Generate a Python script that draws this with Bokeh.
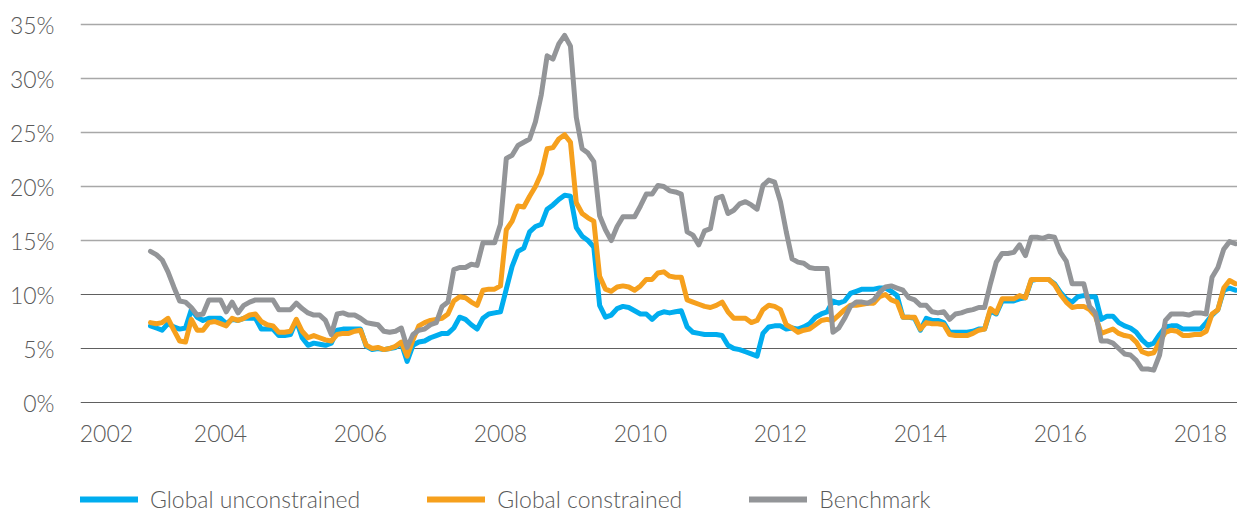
import pandas as pd
from bokeh.plotting import figure
from bokeh.layouts import column
from bokeh.models import (Range1d, FixedTicker, NumeralTickFormatter, PrintfTickFormatter,
                          Grid, Legend, LegendItem, ColumnDataSource)
from bokeh.embed import file_html
from bokeh.resources import INLINE

# ---- data (monthly, Jan 2003 - Jul 2018), values in % ----
months = pd.date_range("2003-01-01", periods=187, freq="MS")

global_unconstrained = [
    7.1, 6.9, 6.7, 7.3, 7.0, 6.8, 6.9, 8.6, 7.9, 7.6, 7.8, 7.8,          # 2003
    7.8, 7.3, 7.7, 7.6, 7.8, 7.8, 7.8, 6.8, 6.8, 6.8, 6.2, 6.2,          # 2004
    6.3, 7.6, 6.0, 5.3, 5.5, 5.4, 5.3, 5.5, 6.7, 6.8, 6.8, 6.8,          # 2005
    6.8, 5.2, 4.9, 5.0, 4.9, 5.0, 5.1, 5.5, 3.8, 5.3, 5.6, 5.7,          # 2006
    6.0, 6.2, 6.4, 6.4, 6.9, 7.9, 7.7, 7.2, 6.8, 7.8, 8.2, 8.3,          # 2007
    8.4, 10.5, 12.6, 14.0, 14.3, 15.8, 16.3, 16.5, 17.9, 18.3, 18.8, 19.2,  # 2008
    19.1, 16.2, 15.4, 15.0, 14.4, 9.0, 7.9, 8.1, 8.7, 8.9, 8.8, 8.5,     # 2009
    8.2, 8.2, 7.7, 8.2, 8.4, 8.3, 8.4, 8.5, 7.0, 6.5, 6.4, 6.3,          # 2010
    6.3, 6.3, 6.2, 5.3, 5.0, 4.9, 4.7, 4.5, 4.3, 6.4, 7.0, 7.1,          # 2011
    7.1, 6.8, 6.9, 6.8, 7.0, 7.3, 7.9, 8.2, 8.4, 9.4, 9.2, 9.4,          # 2012
    10.1, 10.3, 10.5, 10.5, 10.5, 10.6, 10.6, 10.3, 9.9, 7.9, 7.9, 7.8,  # 2013
    6.7, 7.8, 7.6, 7.6, 7.4, 6.5, 6.5, 6.5, 6.5, 6.6, 6.8, 6.8,          # 2014
    8.5, 8.2, 9.4, 9.4, 9.4, 9.6, 9.7, 11.3, 11.4, 11.4, 11.4, 11.0,     # 2015
    10.2, 9.6, 9.3, 9.8, 9.9, 9.8, 9.8, 7.7, 8.0, 8.0, 7.4, 7.1,         # 2016
    6.9, 6.5, 5.8, 5.3, 5.5, 6.3, 7.0, 7.1, 7.1, 6.8, 6.8, 6.8,          # 2017
    6.8, 7.4, 8.1, 8.6, 10.4, 10.6, 10.4,                                # 2018
]

global_constrained = [
    7.4, 7.3, 7.4, 7.8, 6.7, 5.7, 5.6, 7.7, 6.7, 6.7, 7.4, 7.5,          # 2003
    7.3, 7.1, 7.8, 7.6, 7.8, 8.1, 8.2, 7.5, 7.2, 7.1, 6.5, 6.5,          # 2004
    6.6, 7.7, 6.6, 6.0, 6.2, 6.0, 5.8, 5.7, 6.3, 6.4, 6.4, 6.6,          # 2005
    6.7, 5.3, 5.0, 5.1, 4.9, 5.0, 5.2, 5.6, 4.3, 5.8, 7.1, 7.4,          # 2006
    7.6, 7.7, 7.8, 8.2, 9.4, 9.8, 9.7, 9.3, 9.0, 10.4, 10.5, 10.5,       # 2007
    10.8, 16.0, 16.8, 18.2, 18.1, 19.1, 20.0, 21.2, 23.5, 23.6, 24.4, 24.8,  # 2008
    24.1, 18.5, 17.5, 17.1, 16.8, 11.7, 10.5, 10.3, 10.7, 10.8, 10.7, 10.4,  # 2009
    10.8, 11.4, 11.4, 12.0, 12.1, 11.7, 11.6, 11.6, 9.5, 9.3, 9.1, 8.9,  # 2010
    8.8, 9.0, 9.3, 8.4, 7.8, 7.8, 7.8, 7.4, 7.6, 8.6, 9.0, 8.9,          # 2011
    8.6, 7.2, 6.9, 6.5, 6.7, 6.8, 7.2, 7.6, 7.7, 7.6, 8.1, 8.6,          # 2012
    9.0, 9.0, 9.1, 9.2, 9.2, 9.8, 10.0, 9.5, 9.3, 7.9, 7.9, 7.9,         # 2013
    6.8, 7.4, 7.3, 7.3, 7.2, 6.3, 6.2, 6.2, 6.2, 6.4, 6.7, 6.8,          # 2014
    8.7, 8.3, 9.6, 9.6, 9.6, 9.9, 9.7, 11.4, 11.4, 11.4, 11.4, 10.9,     # 2015
    10.0, 9.3, 8.8, 8.9, 8.9, 8.6, 8.0, 6.4, 6.6, 6.8, 6.4, 6.2,         # 2016
    6.1, 5.6, 4.7, 4.5, 4.6, 5.6, 6.5, 6.7, 6.6, 6.2, 6.2, 6.3,          # 2017
    6.3, 6.6, 8.2, 8.6, 10.6, 11.3, 11.0,                                # 2018
]

benchmark = [
    14.0, 13.7, 13.2, 12.1, 10.7, 9.4, 9.3, 8.8, 8.1, 8.2, 9.5, 9.5,     # 2003
    9.5, 8.4, 9.3, 8.3, 9.0, 9.3, 9.5, 9.5, 9.5, 9.5, 8.6, 8.6,          # 2004
    8.6, 9.2, 8.7, 8.3, 8.1, 8.1, 7.6, 6.3, 8.2, 8.3, 8.1, 8.1,          # 2005
    7.8, 7.4, 7.3, 7.2, 6.6, 6.5, 6.6, 6.9, 5.1, 6.3, 6.7, 6.8,          # 2006
    7.2, 7.4, 8.9, 9.3, 12.3, 12.5, 12.5, 12.8, 12.7, 14.8, 14.8, 14.8,  # 2007
    16.5, 22.6, 22.9, 23.8, 24.1, 24.4, 26.0, 28.5, 32.1, 31.8, 33.2, 34.0,  # 2008
    33.0, 26.4, 23.5, 23.1, 22.3, 17.3, 16.0, 15.0, 16.3, 17.2, 17.2, 17.2,  # 2009
    18.2, 19.3, 19.3, 20.1, 20.0, 19.6, 19.5, 19.3, 15.8, 15.5, 14.6, 15.9,  # 2010
    16.1, 18.9, 19.1, 17.5, 17.8, 18.4, 18.6, 18.3, 17.9, 20.1, 20.6, 20.4,  # 2011
    18.6, 15.8, 13.3, 13.0, 12.9, 12.5, 12.4, 12.4, 12.4, 6.5, 6.9, 7.8,     # 2012
    8.9, 9.3, 9.3, 9.2, 9.5, 10.2, 10.7, 10.8, 10.6, 10.4, 9.7, 9.5,     # 2013
    9.0, 9.0, 8.4, 8.3, 8.4, 7.7, 8.2, 8.3, 8.5, 8.6, 8.8, 8.8,          # 2014
    11.0, 13.0, 13.8, 13.8, 13.9, 14.6, 13.6, 15.3, 15.3, 15.2, 15.4, 15.3,  # 2015
    13.9, 13.1, 11.0, 11.0, 11.0, 8.9, 8.3, 5.7, 5.7, 5.5, 5.0, 4.5,     # 2016
    4.4, 3.9, 3.1, 3.1, 3.0, 4.4, 7.6, 8.2, 8.2, 8.2, 8.1, 8.3,          # 2017
    8.3, 8.2, 11.6, 12.5, 14.2, 14.9, 14.7,                              # 2018
]

series_names = ["Global unconstrained", "Global constrained", "Benchmark"]
series_colors = ["#00adef", "#f6a01d", "#939598"]
year_ticks = [2004, 2006, 2008, 2010, 2012, 2014, 2016, 2018]
pct_ticks = [0, 5, 10, 15, 20, 25, 30, 35]

# ---- main chart ----
xval = months.year + (months.month - 1) / 12.0
src = ColumnDataSource(dict(x=xval, u=global_unconstrained,
                            c=global_constrained, b=benchmark))
cols = ["u", "c", "b"]

FONT = "'Lato Light', Lato"
FSIZE = "23px"
TXT = "#595959"

p = figure(width=1237, height=460, output_backend="svg", toolbar_location=None,
           x_range=Range1d(2002.0, 2018.53), y_range=Range1d(-0.09, 35.28),
           min_border_left=80, min_border_right=0, min_border_top=21,
           min_border_bottom=57)
p.outline_line_color = None
p.background_fill_color = "white"
p.border_fill_color = "white"

p.xgrid.visible = False
p.ygrid.visible = False
g_light = Grid(dimension=1, ticker=FixedTicker(ticks=[t for t in pct_ticks if t >= 15]),
               grid_line_color="#a8a8a8", grid_line_width=1.6)
g_dark = Grid(dimension=1, ticker=FixedTicker(ticks=[t for t in pct_ticks if t < 15]),
              grid_line_color="#606060", grid_line_width=1.1)
p.add_layout(g_light)
p.add_layout(g_dark)

# x axis: first label sits a little right of the axis start, as in the original
p.xaxis.ticker = FixedTicker(ticks=[2002.37] + year_ticks)
p.xaxis.formatter = NumeralTickFormatter(format="0")
p.yaxis.ticker = FixedTicker(ticks=pct_ticks)
p.yaxis.formatter = PrintfTickFormatter(format="%d%%")
for ax in (p.xaxis, p.yaxis):
    ax.axis_line_color = None
    ax.major_tick_line_color = None
    ax.minor_tick_line_color = None
    ax.major_tick_out = 0
    ax.major_tick_in = 0
    ax.major_label_text_font = FONT
    ax.major_label_text_font_size = FSIZE
    ax.major_label_text_color = TXT
p.xaxis.major_label_standoff = 21
p.yaxis.major_label_standoff = 26

line_kw = dict(line_width=5, line_join="round", line_cap="round")
for c, col in zip(cols, series_colors):
    p.line("x", c, source=src, line_color=col, **line_kw)

# ---- legend strip under the chart (its frame is aligned with the chart's) ----
lg = figure(width=1237, height=53, output_backend="svg", toolbar_location=None,
            x_range=Range1d(0, 1), y_range=Range1d(0, 1),
            x_axis_location=None, y_axis_location=None,
            min_border_left=0, min_border_right=0, min_border_top=0, min_border_bottom=0)
lg.outline_line_color = None
lg.xgrid.visible = False
lg.ygrid.visible = False
items = []
for name, c, col in zip(series_names, cols, series_colors):
    # same series, outside this strip's ranges: only the legend sample shows
    r = lg.line("x", c, source=src, line_color=col, line_width=6, line_cap="round")
    items.append(LegendItem(label=name, renderers=[r]))
legend = Legend(items=items, orientation="horizontal", location=(0, 0),
                glyph_width=58, glyph_height=20, label_standoff=12, spacing=67,
                padding=0, margin=0, border_line_color=None,
                background_fill_alpha=0,
                label_text_font=FONT, label_text_font_size=FSIZE,
                label_text_color=TXT)
lg.add_layout(legend)

layout = column(p, lg, spacing=0)
open("out.html", "w").write(file_html(layout, INLINE))
